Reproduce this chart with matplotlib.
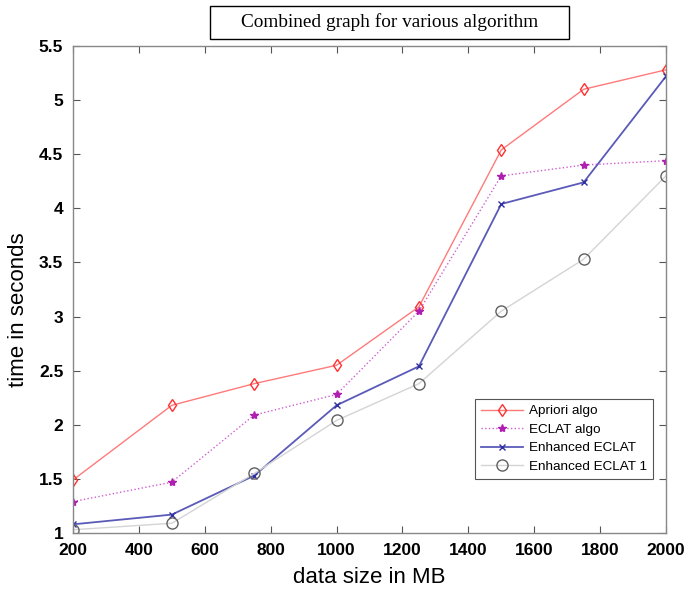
import matplotlib
matplotlib.use("Agg")
import matplotlib.pyplot as plt
from matplotlib.patches import Rectangle

data_size = [200, 500, 750, 1000, 1250, 1500, 1750, 2000]
apriori = [1.49, 2.18, 2.38, 2.55, 3.09, 4.54, 5.10, 5.28]
eclat = [1.29, 1.47, 2.09, 2.28, 3.05, 4.30, 4.40, 4.44]
enh_eclat = [1.08, 1.17, 1.53, 2.18, 2.54, 4.04, 4.24, 5.22]
enh_eclat1 = [1.03, 1.09, 1.55, 2.04, 2.38, 3.05, 3.53, 4.30]

xticks = [200, 400, 600, 800, 1000, 1200, 1400, 1600, 1800, 2000]
yticks = [1, 1.5, 2, 2.5, 3, 3.5, 4, 4.5, 5, 5.5]
ytick_labels = ['1', '1.5', '2', '2.5', '3', '3.5', '4', '4.5', '5', '5.5']

W, H = 685, 593
fig = plt.figure(figsize=(W / 100, H / 100), dpi=100)
ax = fig.add_axes([73 / W, (H - 533) / H, (666 - 73) / W, (533 - 46) / H])

ax.plot(data_size, apriori, color='#ff7a7a', linewidth=1.0, marker='d',
        markersize=6, markerfacecolor='none', markeredgecolor='#ff3030',
        label='Apriori algo')
ax.plot(data_size, eclat, color='#d060d0', linewidth=1.0, linestyle=':',
        marker='*', markersize=6, markerfacecolor='#b020b0',
        markeredgecolor='#b020b0', label='ECLAT algo')
ax.plot(data_size, enh_eclat, color='#5a5ab8', linewidth=1.3, marker='x',
        markersize=5, markeredgecolor='#3030a0', label='Enhanced ECLAT')
ax.plot(data_size, enh_eclat1, color='#d4d4d4', linewidth=1.0, marker='o',
        markersize=8, markerfacecolor='none', markeredgecolor='#606060',
        label='Enhanced ECLAT 1')

ax.set_xlim(200, 2000)
ax.set_ylim(1, 5.5)
ax.set_xticks(xticks)
ax.set_yticks(yticks)
ax.set_yticklabels(ytick_labels)
ax.tick_params(direction='in', top=True, right=True, length=5, width=0.8,
               labelsize=12.5, colors='#555555', labelcolor='black', pad=7)
for lbl in ax.get_xticklabels() + ax.get_yticklabels():
    lbl.set_fontweight('bold')
    lbl.set_family('Liberation Sans')
for sp in ax.spines.values():
    sp.set_color('#888888')
    sp.set_linewidth(1.0)

ax.set_xlabel('data size in MB', fontsize=16, family='Liberation Sans',
              labelpad=7)
ax.set_ylabel('time in seconds', fontsize=16, family='Liberation Sans')
ax.yaxis.set_label_coords(-0.075, 0.458)

# title box
fig.patches.append(Rectangle((210 / W, 1 - 39 / H), (569 - 210) / W, 33 / H,
                             transform=fig.transFigure, facecolor='white',
                             edgecolor='black', linewidth=1.0))
fig.text(389.5 / W, 1 - 22.5 / H, 'Combined graph for various algorithm',
         ha='center', va='center', fontsize=13.9, family='Liberation Serif')

leg = ax.legend(loc='upper left', bbox_to_anchor=(0.666, 0.2895),
                prop={'family': 'Liberation Sans', 'size': 9.7},
                fancybox=False, edgecolor='#555555', framealpha=1,
                handlelength=3.1, borderpad=0.45, labelspacing=0.45,
                handletextpad=0.5)
leg.get_frame().set_linewidth(0.8)

fig.savefig('out.png', dpi=100)
